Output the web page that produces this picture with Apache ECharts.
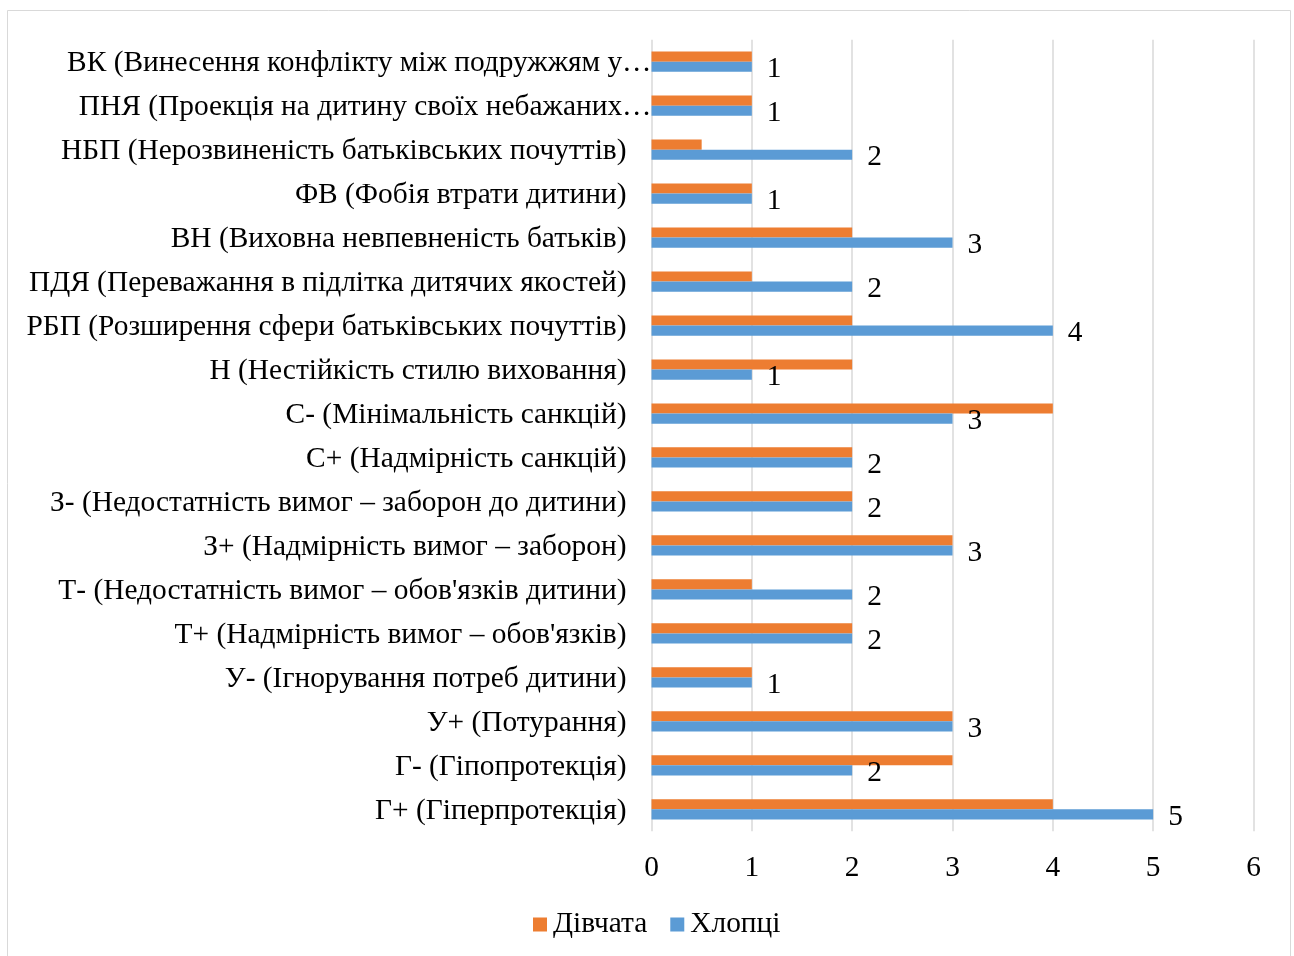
<!DOCTYPE html>
<html>
<head>
<meta charset="utf-8">
<script src="https://cdn.jsdelivr.net/npm/echarts@6/dist/echarts.min.js"></script>
<style>html,body{margin:0;padding:0;background:#fff}#c{width:1294px;height:956px}</style>
</head>
<body>
<div id="c"></div>
<script>
// Categories listed bottom-to-top (category axis runs upward)
const categories = [
  "Г+ (Гіперпротекція)",
  "Г- (Гіпопротекція)",
  "У+ (Потурання)",
  "У- (Ігнорування потреб дитини)",
  "Т+ (Надмірність вимог – обов'язків)",
  "Т- (Недостатність вимог – обов'язків дитини)",
  "З+ (Надмірність вимог – заборон)",
  "З- (Недостатність вимог – заборон до дитини)",
  "С+ (Надмірність санкцій)",
  "С- (Мінімальність санкцій)",
  "Н (Нестійкість стилю виховання)",
  "РБП (Розширення сфери батьківських почуттів)",
  "ПДЯ (Переважання в підлітка дитячих якостей)",
  "ВН (Виховна невпевненість батьків)",
  "ФВ (Фобія втрати дитини)",
  "НБП (Нерозвиненість батьківських почуттів)",
  "ПНЯ (Проекція на дитину своїх небажаних…",
  "ВК (Винесення конфлікту між подружжям у…"
];
const truncated = [false,false,false,false,false,false,false,false,false,false,false,false,false,false,false,false,true,true];
const girls = [4, 3, 3, 1, 2, 1, 3, 2, 2, 4, 2, 2, 1, 2, 1, 0.5, 1, 1];
const boys  = [5, 2, 3, 1, 2, 2, 3, 2, 2, 3, 1, 4, 2, 3, 1, 2, 1, 1];
const xTicks = [0, 1, 2, 3, 4, 5, 6];
const seriesNames = ["Дівчата", "Хлопці"];

const FONT = '"Liberation Serif", "Times New Roman", "DejaVu Serif", serif';
const FS = 29.4;
const chart = echarts.init(document.getElementById('c'), null, {renderer: 'canvas'});
chart.setOption({
  animation: false,
  backgroundColor: '#ffffff',
  graphic: [{
    type: 'rect', shape: {x: 7.5, y: 10.5, width: 1283, height: 960},
    style: {fill: 'none', stroke: '#d9d9d9', lineWidth: 1}, silent: true, z: -1
  }],
  grid: {left: 651.5, right: 40.5, top: 39.7, bottom: 124.7, containLabel: false},
  legend: {
    data: seriesNames, top: 905, left: 528, icon: 'rect',
    itemWidth: 14, itemHeight: 14, itemGap: 23,
    textStyle: {fontFamily: FONT, fontSize: FS, color: '#000', padding: [0, 0, 0, 1]}
  },
  xAxis: {
    type: 'value', min: xTicks[0], max: xTicks[xTicks.length - 1], interval: 1,
    axisLine: {show: false}, axisTick: {show: false},
    splitLine: {show: true, lineStyle: {color: '#d9d9d9', width: 1.5}},
    axisLabel: {fontFamily: FONT, fontSize: FS, color: '#000', margin: 22}
  },
  yAxis: {
    type: 'category', data: categories,
    axisLine: {show: false}, axisTick: {show: false},
    axisLabel: {
      margin: 0, interval: 0,
      formatter: function (v, i) { return truncated[i] ? '{b|' + v + '}' : '{a|' + v + '}'; },
      rich: {
        a: {fontFamily: FONT, fontSize: FS, color: '#000', padding: [4, 25, 0, 0]},
        b: {fontFamily: FONT, fontSize: FS, color: '#000', padding: [4, 0, 0, 0]}
      }
    }
  },
  series: [
    {
      name: seriesNames[0], type: 'bar', data: girls,
      itemStyle: {color: '#ED7D31'}, barGap: '0%', barCategoryGap: '54%'
    },
    {
      name: seriesNames[1], type: 'bar', data: boys,
      itemStyle: {color: '#5B9BD5'}, barGap: '0%', barCategoryGap: '54%',
      label: {show: true, position: 'right', distance: 15, offset: [0, 3], fontFamily: FONT, fontSize: FS, color: '#000'}
    }
  ]
});
</script>
</body>
</html>
